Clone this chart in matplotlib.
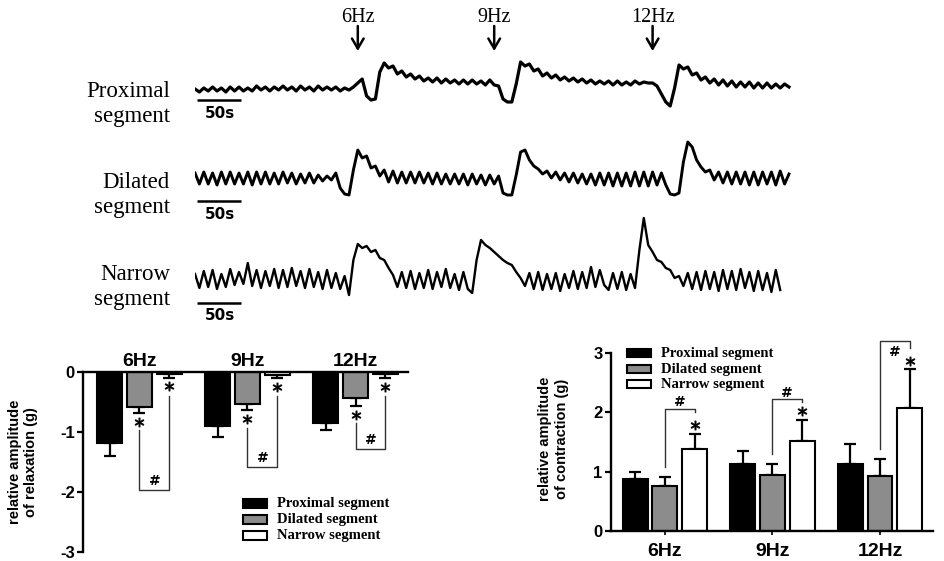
import numpy as np
import matplotlib
matplotlib.use("Agg")
import matplotlib.pyplot as plt
from matplotlib.patches import Rectangle

plt.rcParams['font.family'] = ['Liberation Sans', 'DejaVu Sans']

W, H = 945, 561

# recorded tension traces (deflection, one sample every 5 s)
trace_step = 5
proximal_trace = [
    1, -2, 2, -1, 3, -1, 2, -2, 3, -1,
    3, -1, 2, -1, 4, 0, 3, -1, 3, 0,
    4, 0, 3, -1, 4, 0, 3, -1, 4, 0,
    3, 0, 3, -1, 2, 0, 3, 7, 11, -6,
    -10, -9, 18, 27, 22, 24, 16, 19, 13, 16,
    11, 14, 9, 12, 8, 12, 7, 11, 7, 10,
    6, 10, 6, 10, 6, 9, 5, 10, 5, 4,
    -9, -12, -12, 6, 28, 24, 26, 19, 21, 14,
    17, 12, 15, 10, 13, 9, 12, 8, 11, 7,
    10, 6, 9, 6, 9, 5, 9, 5, 8, 5,
    9, 6, 8, 7, 7, 4, -4, -12, -16, 2,
    25, 21, 23, 15, 17, 10, 13, 7, 11, 5,
    10, 4, 9, 3, 8, 3, 8, 2, 7, 2,
    7, 2, 6, 2, 6, 3,
]
dilated_trace = [
    7, -4, 8, -4, 7, -5, 8, -4, 8, -4,
    7, -4, 8, -5, 8, -4, 8, -4, 7, -4,
    8, -3, 7, -4, 6, -3, 7, -3, 5, -1,
    4, 0, 7, -8, -14, -15, 10, 30, 22, 24,
    12, 14, 4, 10, -2, 9, -3, 8, -3, 8,
    -3, 8, -3, 7, -4, 7, -4, 6, -4, 6,
    -4, 6, -5, 6, -4, 5, -5, 5, -4, 4,
    -13, -15, -15, 5, 28, 30, 20, 14, 11, 6,
    9, 2, 8, 0, 7, -2, 7, -3, 6, -4,
    6, -5, 7, -5, 7, -6, 7, -6, 7, -6,
    8, -6, 8, -6, 8, -5, 7, -5, -14, -15,
    -13, 18, 38, 33, 20, 13, 8, 10, 0, 8,
    -3, 8, -4, 8, -4, 8, -5, 8, -5, 8,
    -4, 8, -5, 9, -4, 6,
]
narrow_trace = [
    6, -8, 9, -7, 10, -9, 6, -7, 11, -5,
    8, -4, 17, -6, 10, -8, 9, -6, 11, -8,
    10, -7, 12, -6, 9, -8, 11, -7, 8, -9,
    10, -8, 7, -9, 4, -15, 20, 36, 32, 34,
    28, 30, 22, 20, 12, 5, -7, 8, -8, 9,
    -9, 7, -8, 10, -9, 8, -7, 11, -8, 6,
    -10, 8, -9, -13, 20, 40, 35, 32, 28, 24,
    20, 17, 15, 8, 2, -6, 7, -9, 8, -10,
    6, -9, 7, -11, 6, -8, 9, -9, 8, -8,
    13, -7, 10, -5, -10, 7, -9, 8, -10, 6,
    -8, 30, 62, 35, 28, 20, 18, 12, 10, 2,
    4, -6, 7, -9, 8, -10, 9, -9, 8, -11,
    10, -9, 9, -10, 11, -8, 8, -11, 9, -10,
    7, -12, 10, -10,
]
stim_times = [185, 340, 520]
freqs = ["6Hz", "9Hz", "12Hz"]
segments = ["Proximal segment", "Dilated segment", "Narrow segment"]

# relaxation amplitude (g), mean and SEM
relax_prox = [-1.18, -0.90, -0.86]
relax_dil = [-0.58, -0.54, -0.44]
relax_nar = [-0.045, -0.055, -0.045]
relax_prox_sem = [0.22, 0.18, 0.11]
relax_dil_sem = [0.10, 0.10, 0.13]
relax_nar_sem = [0.055, 0.055, 0.065]

# contraction amplitude (g), mean and SEM
cont_prox = [0.87, 1.13, 1.13]
cont_dil = [0.755, 0.95, 0.925]
cont_nar = [1.39, 1.51, 2.07]
cont_prox_sem = [0.13, 0.22, 0.34]
cont_dil_sem = [0.155, 0.18, 0.295]
cont_nar_sem = [0.25, 0.37, 0.66]

# significance bracket levels
relax_hash_level = [-1.97, -1.58, -1.29]
cont_hash_level = [2.06, 2.22, 3.20]

fig = plt.figure(figsize=(W / 100, H / 100), dpi=100)


def px_axes(x0, y0, x1, y1):
    return fig.add_axes([x0 / W, 1 - y1 / H, (x1 - x0) / W, (y1 - y0) / H])


# ---------------- traces ----------------
SERIF = 'Liberation Serif'
trace_px = 0.88  # pixels per second


def trace_axes(y0, y1, base):
    ax = px_axes(195, y0, 795, y1)
    ax.set_xlim(0, 600 / trace_px)
    ax.set_ylim(base - y1, base - y0)
    ax.axis('off')
    ax.patch.set_alpha(0)
    return ax


traces = [
    (proximal_trace, 55, 115, 90, 100, 2.3, 97),
    (dilated_trace, 130, 215, 180, 201, 2.1, 188),
    (narrow_trace, 205, 315, 280, 303, 1.7, 280),
]
axes_tr = []
for (vals, y0, y1, base, bar_y, lw, name_y), seg in zip(traces, segments):
    ax = trace_axes(y0, y1, base)
    axes_tr.append(ax)
    t = np.arange(len(vals)) * trace_step
    ax.plot(t, vals, color='black', lw=lw, solid_joinstyle='round')
    ax.plot([2.3, 52.3], [base - bar_y, base - bar_y], color='black', lw=1.8,
            solid_capstyle='butt')
    ax.text(28.5, base - bar_y - 13, "50s", ha='center', va='center',
            fontsize=11, fontweight='bold', family='DejaVu Sans')
    first, second = seg.split()
    fig.text(170 / W, 1 - name_y / H, first, ha='right', va='baseline',
             family=SERIF, fontsize=16.5)
    fig.text(170 / W, 1 - (name_y + 25) / H, second, ha='right', va='baseline',
             family=SERIF, fontsize=16.5)

for t, lab in zip(stim_times, freqs):
    axes_tr[0].annotate("", xy=(t, 1 - 51 / H), xycoords=("data", "figure fraction"),
                        xytext=(t, 1 - 26 / H), textcoords=("data", "figure fraction"),
                        arrowprops=dict(arrowstyle="->,head_length=0.6,head_width=0.35",
                                        lw=1.8, color='black', shrinkA=0, shrinkB=0,
                                        mutation_scale=12))
    axes_tr[0].annotate(lab, xy=(t, 1 - 17 / H), xycoords=("data", "figure fraction"),
                        ha='center', va='center', family=SERIF, fontsize=14.5)

# ---------------- bar charts ----------------
colors = ['black', '#8c8c8c', 'white']
off = 0.276
bw = 0.232
x = np.arange(3)


def draw_bars(ax, means, sems, down):
    tops = []
    for k, (m, s) in enumerate(zip(means, sems)):
        m = np.array(m)
        s = np.array(s)
        xs = x + (k - 1) * off
        ax.bar(xs, m, bw, color=colors[k], edgecolor='black', linewidth=1.5, zorder=2)
        z = np.zeros(3)
        yerr = [s, z] if down else [z, s]
        ax.errorbar(xs, m, yerr=yerr, fmt='none', ecolor='black', elinewidth=1.6,
                    capsize=4.5, capthick=1.6, zorder=1)
        tops.append(m - s if down else m + s)
    return tops


def star(ax, xs, ys):
    ax.plot(xs, ys, ls='none', marker='$*$', ms=6.5, mew=0.6, color='black',
            clip_on=False, zorder=3)


def legend(x0, ys, box_h):
    for k, (y, seg) in enumerate(zip(ys, segments)):
        fig.add_artist(Rectangle((x0 / W, 1 - (y + box_h / 2) / H), 24 / W, box_h / H,
                                 transform=fig.transFigure, facecolor=colors[k],
                                 edgecolor='black', lw=1.5))
        fig.text((x0 + 34) / W, 1 - y / H, seg, ha='left', va='center', family=SERIF,
                 fontsize=10.5, fontweight='bold')


# left: relaxation
axL = px_axes(83, 371.7, 408, 551.7)
tops = draw_bars(axL, [relax_prox, relax_dil, relax_nar],
                 [relax_prox_sem, relax_dil_sem, relax_nar_sem], down=True)
axL.set_xlim(-0.523, 2.486)
axL.set_ylim(-3, 0)
for sp in ['bottom', 'right']:
    axL.spines[sp].set_visible(False)
for sp in ['top', 'left']:
    axL.spines[sp].set_linewidth(1.7)
axL.xaxis.tick_top()
axL.set_xticks(x)
axL.set_xticklabels(freqs, fontsize=14, fontweight='bold')
axL.tick_params(axis='x', length=0, pad=1)
axL.set_yticks([0, -1, -2, -3])
axL.set_yticklabels(['0', '-1', '-2', '-3'], fontsize=12, fontweight='bold')
axL.tick_params(axis='y', length=4, width=1.6, pad=2)
gray_star = tops[1] - 0.15
white_star = tops[2] - 0.14
star(axL, x, gray_star)
star(axL, x + off, white_star)
for i in range(3):
    lv = relax_hash_level[i]
    axL.plot([x[i], x[i], x[i] + off, x[i] + off],
             [gray_star[i] - 0.14, lv, lv, white_star[i] - 0.16],
             color='#333333', lw=1.0, zorder=3)
    axL.text(x[i] + off / 2, lv + 0.15, "#", ha='center', va='center',
             fontsize=10, fontweight='bold', family='DejaVu Sans')
fig.text(23 / W, 1 - 462 / H, "relative amplitude\nof relaxation (g)", rotation=90,
         ha='center', va='center', fontsize=10.5, fontweight='bold', linespacing=1.2)
legend(243, [503.3, 519, 535], 9)

# right: contraction
axR = px_axes(611, 353.3, 933, 530.7)
tops = draw_bars(axR, [cont_prox, cont_dil, cont_nar],
                 [cont_prox_sem, cont_dil_sem, cont_nar_sem], down=False)
axR.set_xlim(-0.502, 2.493)
axR.set_ylim(0, 3)
for sp in ['top', 'right']:
    axR.spines[sp].set_visible(False)
for sp in ['bottom', 'left']:
    axR.spines[sp].set_linewidth(1.7)
axR.set_xticks(x)
axR.set_xticklabels(freqs, fontsize=14, fontweight='bold')
axR.tick_params(axis='x', length=3, width=1.2, pad=6)
axR.set_yticks([0, 1, 2, 3])
axR.set_yticklabels(['0', '1', '2', '3'], fontsize=12, fontweight='bold')
axR.tick_params(axis='y', length=4, width=1.6, pad=2)
white_star = tops[2] + 0.14
star(axR, x + off, white_star)
for i in range(3):
    lv = cont_hash_level[i]
    drop = 0.05 if i < 2 else 0.11
    axR.plot([x[i], x[i], x[i] + off, x[i] + off],
             [tops[1][i] + 0.16, lv, lv, lv - drop],
             color='#333333', lw=1.0, zorder=3, clip_on=False)
    hy = lv + 0.11 if i < 2 else lv - 0.17
    axR.text(x[i] + off / 2, hy, "#", ha='center', va='center',
             fontsize=10, fontweight='bold', family='DejaVu Sans')
fig.text(553.5 / W, 1 - 439 / H, "relative amplitude\nof contraction (g)", rotation=90,
         ha='center', va='center', fontsize=10.5, fontweight='bold', linespacing=1.2)
legend(627, [353.3, 369, 384.3], 8)

fig.savefig("out.png", dpi=100, facecolor='white')
